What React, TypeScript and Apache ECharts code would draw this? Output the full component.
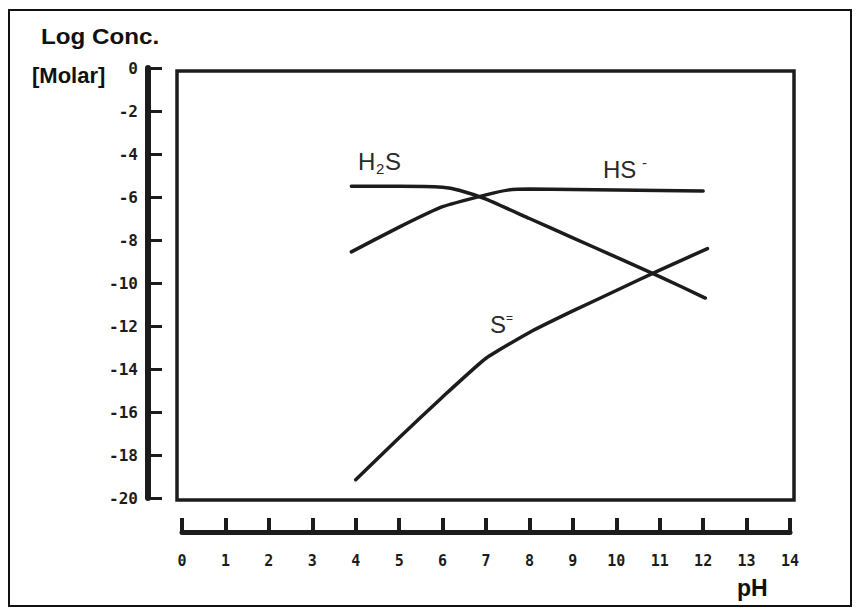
import React, { useEffect, useRef } from "react";
import * as echarts from "echarts";

// pH scale tick values and log concentration ticks
const pHTicks = [0, 1, 2, 3, 4, 5, 6, 7, 8, 9, 10, 11, 12, 13, 14];
const logTicks = [0, -2, -4, -6, -8, -10, -12, -14, -16, -18, -20];

// H2S curve
const h2sPH = [3.9, 5.0, 6.0, 6.4, 7.0, 8.0, 9.0, 10.0, 11.0, 12.05];
const h2sLog = [-5.5, -5.5, -5.55, -5.7, -6.1, -7.0, -7.9, -8.8, -9.7, -10.7];

// HS- curve
const hsPH = [3.9, 5.0, 6.0, 7.0, 7.5, 8.0, 10.0, 12.0];
const hsLog = [-8.55, -7.4, -6.45, -5.9, -5.68, -5.63, -5.67, -5.72];

// S= curve
const sPH = [4.0, 5.0, 6.0, 7.0, 8.0, 9.0, 10.0, 11.0, 12.1];
const sLog = [-19.15, -17.2, -15.3, -13.5, -12.3, -11.3, -10.35, -9.4, -8.4];

const zip = (xs: number[], ys: number[]) => xs.map((x, i) => [x, ys[i]]);

const INK = "#1c1c1c";
const LABEL = "#2a2a2a";
const SANS = "'Liberation Sans', Arial, sans-serif";

export default function App() {
  const ref = useRef<HTMLDivElement>(null);

  useEffect(() => {
    document.body.style.margin = "0";
    const chart = echarts.init(ref.current!, undefined, { renderer: "svg" });
    const lineSeries = (name: string, xs: number[], ys: number[]) => ({
      name,
      type: "line",
      data: zip(xs, ys),
      showSymbol: false,
      smooth: 0.15,
      lineStyle: { color: INK, width: 3.5, cap: "round" },
      silent: true,
    });
    chart.setOption({
      animation: false,
      backgroundColor: "#ffffff",
      grid: { left: 182, right: 68, top: 68, bottom: 115 },
      xAxis: {
        type: "value",
        min: pHTicks[0],
        max: pHTicks[pHTicks.length - 1],
        interval: 1,
        offset: 34,
        axisLine: { show: true, onZero: false, lineStyle: { color: INK, width: 5 } },
        axisTick: { show: true, inside: true, length: 14, lineStyle: { color: INK, width: 4 } },
        axisLabel: {
          margin: 21,
          color: INK,
          fontWeight: "bold",
          fontSize: 15,
          fontFamily: "'DejaVu Sans Mono', monospace",
        },
        splitLine: { show: false },
      },
      yAxis: {
        type: "value",
        min: logTicks[logTicks.length - 1],
        max: logTicks[0],
        interval: 2,
        offset: 34,
        axisLine: { show: true, onZero: false, lineStyle: { color: INK, width: 6 } },
        axisTick: { show: true, inside: true, length: 14, lineStyle: { color: INK, width: 3 } },
        axisLabel: {
          margin: 10,
          color: INK,
          fontWeight: "bold",
          fontSize: 16,
          fontFamily: "'DejaVu Sans Mono', monospace",
        },
        splitLine: { show: false },
      },
      series: [
        lineSeries("H2S", h2sPH, h2sLog),
        lineSeries("HS-", hsPH, hsLog),
        lineSeries("S=", sPH, sLog),
      ],
      graphic: [
        {
          type: "rect",
          shape: { x: 9, y: 10, width: 842, height: 596 },
          style: { fill: "none", stroke: "#111", lineWidth: 2 },
          silent: true,
        },
        {
          type: "rect",
          shape: { x: 177, y: 71, width: 617, height: 429 },
          style: { fill: "none", stroke: INK, lineWidth: 3.5 },
          silent: true,
        },
        {
          type: "text",
          x: 41,
          y: 36,
          scaleX: 1.1,
          style: { text: "Log Conc.", fill: "#111", font: `bold 22px ${SANS}`, verticalAlign: "middle", align: "left" },
        },
        {
          type: "text",
          x: 32,
          y: 75,
          style: { text: "[Molar]", fill: "#111", font: `bold 22px ${SANS}`, verticalAlign: "middle", align: "left" },
        },
        {
          type: "text",
          x: 737,
          y: 588,
          style: { text: "pH", fill: "#111", font: `bold 23px ${SANS}`, verticalAlign: "middle", align: "left" },
        },
        // H2S label
        { type: "text", x: 358, y: 161, style: { text: "H", fill: LABEL, font: `24px ${SANS}`, verticalAlign: "middle" } },
        { type: "text", x: 376, y: 168, style: { text: "2", fill: LABEL, font: `15px ${SANS}`, verticalAlign: "middle" } },
        { type: "text", x: 385, y: 161, style: { text: "S", fill: LABEL, font: `24px ${SANS}`, verticalAlign: "middle" } },
        // HS- label
        { type: "text", x: 603, y: 169, style: { text: "HS", fill: LABEL, font: `24px ${SANS}`, verticalAlign: "middle" } },
        { type: "text", x: 642, y: 162, style: { text: "-", fill: LABEL, font: `15px ${SANS}`, verticalAlign: "middle" } },
        // S= label
        { type: "text", x: 490, y: 324, style: { text: "S", fill: LABEL, font: `24px ${SANS}`, verticalAlign: "middle" } },
        { type: "text", x: 506, y: 318, style: { text: "=", fill: LABEL, font: `12px ${SANS}`, verticalAlign: "middle" } },
      ],
    });
    return () => chart.dispose();
  }, []);

  return <div ref={ref} style={{ width: 858, height: 613 }} />;
}
